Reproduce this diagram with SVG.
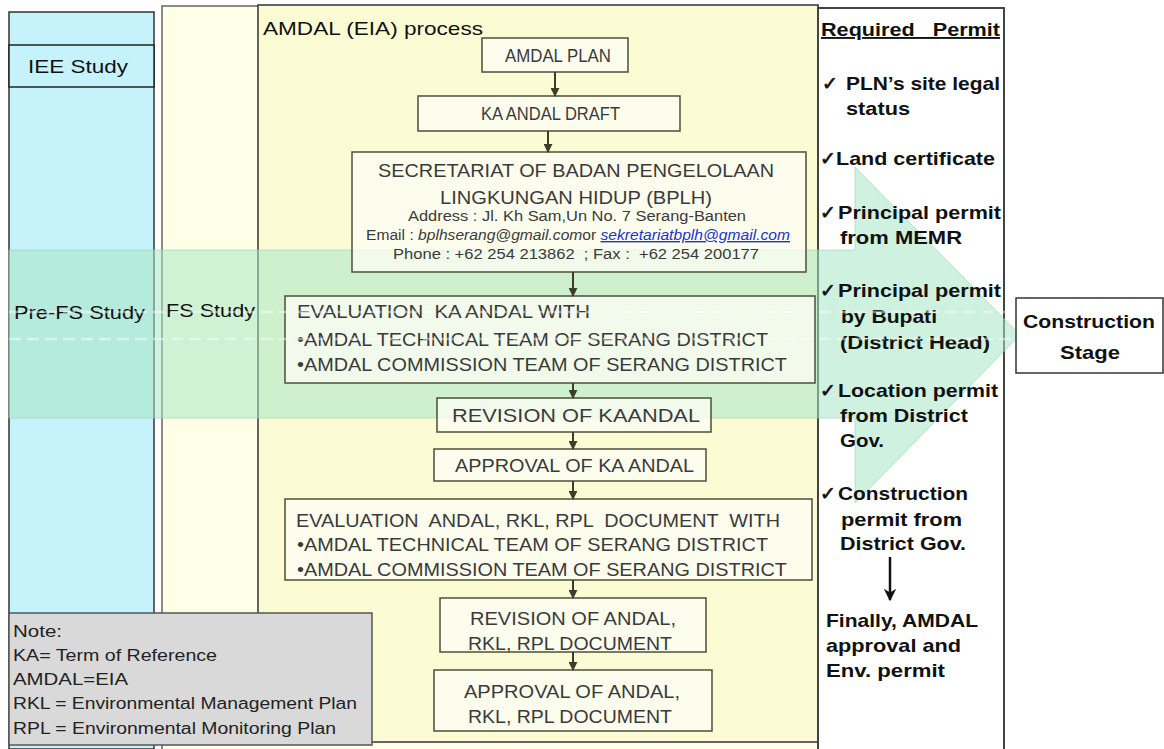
<svg xmlns="http://www.w3.org/2000/svg" width="1164" height="749" viewBox="0 0 1164 749">
<defs>
<style>
.box{fill:#fdfdf4;fill-opacity:0.78;stroke:#4d4d3a;stroke-width:1.5}
.bt{font-family:"Liberation Sans",Arial,sans-serif;font-size:18px;fill:#3a3a3a}
.st{font-family:"Liberation Sans",Arial,sans-serif;font-size:14px;fill:#3a3a3a}
.pt{font-family:"Liberation Sans",Arial,sans-serif;font-weight:bold;font-size:19px;fill:#111}
.lb{font-family:"Liberation Sans",Arial,sans-serif;font-size:19px;fill:#111}
.nt{font-family:"Liberation Sans",Arial,sans-serif;font-size:16px;fill:#222}
.ck{font-family:"DejaVu Sans",sans-serif;font-weight:bold;font-size:19px;fill:#111;stroke:#111;stroke-width:0.7}
.conn{stroke:#3d3d2a;stroke-width:2;fill:none;marker-end:url(#ah)}
</style>
<marker id="ah" viewBox="0 0 10 10" refX="9" refY="5" markerWidth="4.5" markerHeight="4.5" orient="auto">
<path d="M0,0 L10,5 L0,10 z" fill="#3d3d2a"/>
</marker>
<marker id="ahb" viewBox="0 0 10 10" refX="9" refY="5" markerWidth="5" markerHeight="5" orient="auto">
<path d="M0,0 L10,5 L0,10 L3,5 z" fill="#111"/>
</marker>
</defs>

<rect width="1164" height="749" fill="#ffffff"/>

<!-- background panels -->
<g id="panels">
<rect x="9" y="12" width="145" height="737" fill="#c6f2fb" stroke="#333" stroke-width="1.5"/>
<rect x="162" y="6" width="656" height="745" fill="#fffee6" stroke="#666" stroke-width="1.5"/>
<rect x="258" y="5" width="560" height="737" fill="#fcfcd4" stroke="#333" stroke-width="1.5"/>
<rect x="818" y="8" width="186" height="745" fill="#ffffff" stroke="#444" stroke-width="2"/>
</g>

<!-- translucent stage arrow -->
<g id="stage-arrow">
<path d="M9,250 L855,250 L855,167 L1020,335 L855,503 L855,418 L9,418 Z" fill="#a8e6c4" fill-opacity="0.55" stroke="#9fcfb6" stroke-width="1" stroke-opacity="0.6"/>
</g>

<g id="iee">
<rect x="9" y="45" width="145" height="42" fill="#c6f2fb" stroke="#222" stroke-width="1.5"/>
<text class="lb" x="28" y="73" textLength="100" lengthAdjust="spacingAndGlyphs">IEE Study</text>
</g>

<text id="amdal-title" class="lb" x="263" y="35" textLength="220" lengthAdjust="spacingAndGlyphs">AMDAL (EIA) process</text>

<g id="n-amdal-plan">
<rect class="box" x="482" y="38" width="146" height="34"/>
<text class="bt" x="505" y="62" textLength="106" lengthAdjust="spacingAndGlyphs">AMDAL PLAN</text>
</g>
<g id="n-kaandal-draft">
<rect class="box" x="418" y="96" width="262" height="35"/>
<text class="bt" x="481" y="120" textLength="139" lengthAdjust="spacingAndGlyphs">KA ANDAL DRAFT</text>
</g>
<g id="n-secretariat">
<rect class="box" x="352" y="152" width="454" height="120"/>
<text class="bt" x="378" y="177" textLength="396" lengthAdjust="spacingAndGlyphs">SECRETARIAT OF BADAN PENGELOLAAN</text>
<text class="bt" x="440" y="204" textLength="272" lengthAdjust="spacingAndGlyphs">LINGKUNGAN HIDUP (BPLH)</text>
<text class="st" x="408" y="221" textLength="338" lengthAdjust="spacingAndGlyphs">Address : Jl. Kh Sam,Un No. 7 Serang-Banten</text>
<text class="st" x="366" y="240" font-size="13" textLength="424" lengthAdjust="spacingAndGlyphs">Email : <tspan font-style="italic">bplhserang@gmail.com</tspan>or <tspan font-style="italic" fill="#2233cc" text-decoration="underline">sekretariatbplh@gmail.com</tspan></text>
<text class="st" x="393" y="259" textLength="366" lengthAdjust="spacingAndGlyphs" xml:space="preserve">Phone : +62 254 213862  ; Fax :  +62 254 200177</text>
</g>
<g id="n-eval-kaandal">
<rect class="box" x="285" y="296" width="530" height="87"/>
<text class="bt" x="297" y="318" textLength="293" lengthAdjust="spacingAndGlyphs" xml:space="preserve">EVALUATION  KA ANDAL WITH</text>
<text class="bt" x="297" y="346" textLength="471" lengthAdjust="spacingAndGlyphs">•AMDAL TECHNICAL TEAM OF SERANG DISTRICT</text>
<text class="bt" x="297" y="371" textLength="490" lengthAdjust="spacingAndGlyphs">•AMDAL COMMISSION TEAM OF SERANG DISTRICT</text>
</g>
<g id="n-revision-kaandal">
<rect class="box" x="437" y="398" width="274" height="34"/>
<text class="bt" x="452" y="422" textLength="248" lengthAdjust="spacingAndGlyphs">REVISION OF KAANDAL</text>
</g>
<g id="n-approval-kaandal">
<rect class="box" x="434" y="449" width="272" height="32"/>
<text class="bt" x="455" y="472" textLength="239" lengthAdjust="spacingAndGlyphs">APPROVAL OF KA ANDAL</text>
</g>
<g id="n-eval-andal">
<rect class="box" x="285" y="499" width="527" height="81"/>
<text class="bt" x="296" y="527" textLength="484" lengthAdjust="spacingAndGlyphs" xml:space="preserve">EVALUATION  ANDAL, RKL, RPL  DOCUMENT  WITH</text>
<text class="bt" x="297" y="551" textLength="471" lengthAdjust="spacingAndGlyphs">•AMDAL TECHNICAL TEAM OF SERANG DISTRICT</text>
<text class="bt" x="297" y="576" textLength="490" lengthAdjust="spacingAndGlyphs">•AMDAL COMMISSION TEAM OF SERANG DISTRICT</text>
</g>
<g id="n-revision-andal">
<rect class="box" x="440" y="598" width="266" height="54"/>
<text class="bt" x="470" y="625" textLength="206" lengthAdjust="spacingAndGlyphs">REVISION OF ANDAL,</text>
<text class="bt" x="468" y="650" textLength="204" lengthAdjust="spacingAndGlyphs">RKL, RPL DOCUMENT</text>
</g>
<g id="n-approval-andal">
<rect class="box" x="434" y="670" width="278" height="61"/>
<text class="bt" x="464" y="698" textLength="216" lengthAdjust="spacingAndGlyphs">APPROVAL OF ANDAL,</text>
<text class="bt" x="468" y="723" textLength="204" lengthAdjust="spacingAndGlyphs">RKL, RPL DOCUMENT</text>
</g>

<g id="connectors">
<line class="conn" x1="555" y1="72" x2="555" y2="96"/>
<line class="conn" x1="548" y1="131" x2="548" y2="152"/>
<line class="conn" x1="573" y1="272" x2="573" y2="296"/>
<line class="conn" x1="573" y1="383" x2="573" y2="398"/>
<line class="conn" x1="573" y1="432" x2="573" y2="449"/>
<line class="conn" x1="573" y1="481" x2="573" y2="499"/>
<line class="conn" x1="573" y1="580" x2="573" y2="598"/>
<line class="conn" x1="573" y1="652" x2="573" y2="670"/>
<line x1="890" y1="557" x2="890" y2="600" stroke="#111" stroke-width="2.5" marker-end="url(#ahb)"/>
</g>

<g id="permits">
<text class="pt" x="821" y="36" textLength="179" lengthAdjust="spacingAndGlyphs" text-decoration="underline" xml:space="preserve">Required   Permit</text>
<text class="ck" x="822" y="90">✓</text>
<text class="pt" x="846" y="90" textLength="154" lengthAdjust="spacingAndGlyphs">PLN’s site legal</text>
<text class="pt" x="846" y="115" textLength="64" lengthAdjust="spacingAndGlyphs">status</text>
<text class="ck" x="820" y="165">✓</text>
<text class="pt" x="836" y="165" textLength="159" lengthAdjust="spacingAndGlyphs">Land certificate</text>
<text class="ck" x="820" y="219">✓</text>
<text class="pt" x="838" y="219" textLength="163" lengthAdjust="spacingAndGlyphs">Principal permit</text>
<text class="pt" x="840" y="244" textLength="122" lengthAdjust="spacingAndGlyphs">from MEMR</text>
<text class="ck" x="820" y="297">✓</text>
<text class="pt" x="838" y="297" textLength="163" lengthAdjust="spacingAndGlyphs">Principal permit</text>
<text class="pt" x="841" y="323" textLength="96" lengthAdjust="spacingAndGlyphs">by Bupati</text>
<text class="pt" x="840" y="349" textLength="150" lengthAdjust="spacingAndGlyphs">(District Head)</text>
<text class="ck" x="820" y="397">✓</text>
<text class="pt" x="838" y="397" textLength="160" lengthAdjust="spacingAndGlyphs">Location permit</text>
<text class="pt" x="840" y="422" textLength="128" lengthAdjust="spacingAndGlyphs">from District</text>
<text class="pt" x="840" y="447" textLength="44" lengthAdjust="spacingAndGlyphs">Gov.</text>
<text class="ck" x="820" y="500">✓</text>
<text class="pt" x="838" y="500" textLength="130" lengthAdjust="spacingAndGlyphs">Construction</text>
<text class="pt" x="841" y="526" textLength="121" lengthAdjust="spacingAndGlyphs">permit from</text>
<text class="pt" x="840" y="550" textLength="126" lengthAdjust="spacingAndGlyphs">District Gov.</text>
<text class="pt" x="826" y="627" textLength="152" lengthAdjust="spacingAndGlyphs">Finally, AMDAL</text>
<text class="pt" x="826" y="652" textLength="135" lengthAdjust="spacingAndGlyphs">approval and</text>
<text class="pt" x="826" y="677" textLength="119" lengthAdjust="spacingAndGlyphs">Env. permit</text>
</g>

<g id="construction-stage">
<rect x="1016" y="298" width="147" height="75" fill="#ffffff" stroke="#333" stroke-width="1.5"/>
<text class="pt" x="1089" y="328" text-anchor="middle" textLength="132" lengthAdjust="spacingAndGlyphs">Construction</text>
<text class="pt" x="1090" y="359" text-anchor="middle" textLength="60" lengthAdjust="spacingAndGlyphs">Stage</text>
</g>

<g id="stage-labels">
<text class="lb" x="14" y="319" textLength="131" lengthAdjust="spacingAndGlyphs">Pre-FS Study</text>
<text class="lb" x="166" y="317" textLength="89" lengthAdjust="spacingAndGlyphs">FS Study</text>
</g>

<g id="stage-arrow-streaks">
<line x1="9" y1="312" x2="1020" y2="312" stroke="#ffffff" stroke-width="2.5" stroke-dasharray="12 6" opacity="0.45"/>
<line x1="9" y1="339" x2="1020" y2="339" stroke="#ffffff" stroke-width="2.5" stroke-dasharray="12 6" opacity="0.45"/>
</g>

<g id="note">
<rect x="9" y="613" width="363" height="132" fill="#d9d9d9" stroke="#555" stroke-width="1.5"/>
<text class="nt" x="13" y="637" textLength="49" lengthAdjust="spacingAndGlyphs">Note:</text>
<text class="nt" x="13" y="661" textLength="204" lengthAdjust="spacingAndGlyphs">KA= Term of Reference</text>
<text class="nt" x="13" y="685" textLength="115" lengthAdjust="spacingAndGlyphs">AMDAL=EIA</text>
<text class="nt" x="13" y="709" textLength="344" lengthAdjust="spacingAndGlyphs">RKL = Environmental Management Plan</text>
<text class="nt" x="13" y="734" textLength="323" lengthAdjust="spacingAndGlyphs">RPL = Environmental Monitoring Plan</text>
</g>
</svg>
